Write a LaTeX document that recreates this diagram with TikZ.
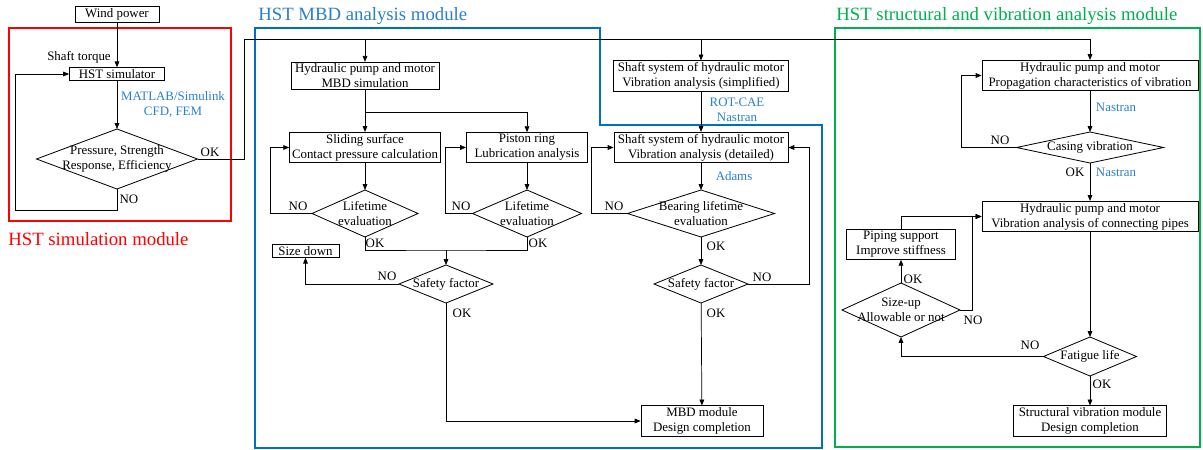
\documentclass[tikz,border=0pt]{standalone}
\usepackage{fontspec}
\setmainfont{Liberation Serif}
\usetikzlibrary{arrows.meta,shapes.geometric}
\definecolor{toolblue}{RGB}{41,128,205}
\definecolor{mbdblue}{RGB}{0,112,192}
\definecolor{svgreen}{RGB}{0,176,80}
\tikzset{
  box/.style={draw, line width=0.7pt, align=center, inner xsep=2pt, inner ysep=1.5pt, font=\fontsize{11}{12.8}\selectfont},
  decision/.style 2 args={diamond, draw, line width=0.7pt, inner sep=0pt, outer sep=0pt, minimum width=#1, minimum height=#2},
  dtext/.style={label={[lab, align=center]center:#1}},
  lab/.style={inner sep=1pt, font=\fontsize{11}{12.8}\selectfont},
  tool/.style={lab, align=center, text=toolblue},
  title/.style={inner sep=0pt, font=\fontsize{16}{18}\selectfont},
  frame/.style={line width=2pt}
}
\begin{document}
\begin{tikzpicture}[x=0.03cm, y=-0.03cm, >={Triangle[length=5pt,width=4pt]}, line width=0.6pt]
\useasboundingbox (0,0) rectangle (1203,450);

% module frames and titles
\draw[frame, red] (9,28) rectangle (231,221);
\draw[frame, mbdblue] (255,28) -- (600,28) -- (600,125) -- (822,125) -- (822,448) -- (255,448) -- cycle;
\draw[frame, svgreen] (835,28) rectangle (1200,447);
\node[title, text=red, anchor=west] (simtitle) at (8,239) {HST simulation module};
\node[title, text=toolblue, anchor=west] (mbdtitle) at (258,16) {HST MBD analysis module};
\node[title, text=svgreen, anchor=west] (svtitle) at (836,16) {HST structural and vibration analysis module};

% HST simulation module
\node[box, minimum width=2.52cm] (wind) at (117,14.5) {Wind power};
\node[box, minimum width=2.85cm] (hstsim) at (117,74) {HST simulator};
\node[decision={4.83cm}{1.8cm}, dtext={Pressure, Strength\\Response, Efficiency}] (check) at (117,159) {};
\node[lab] (torque) at (79,57) {Shaft torque};
\node[tool] (matlab) at (173,104.5) {MATLAB/Simulink\\CFD, FEM};
\node[lab] (checkno) at (129,199) {NO};
\node[lab] (checkok) at (210,152) {OK};

\draw[->] (wind) -- (hstsim);
\draw[->] (hstsim) -- (check);
\draw[->] (check.south) |- (15,210) |- (hstsim.west);
\coordinate (bus) at (244,39);
\draw[->] (check.east) -| (bus) -| (1090,60);

% HST MBD analysis module
\node[box, minimum width=4.44cm] (mbdsim) at (365,76) {Hydraulic pump and motor\\MBD simulation};
\node[box, minimum width=4.44cm] (sliding) at (365,147.5) {Sliding surface\\Contact pressure calculation};
\node[box, minimum width=3.63cm] (piston) at (527,147.5) {Piston ring\\Lubrication analysis};
\node[decision={3.18cm}{1.41cm}, dtext={Lifetime\\evaluation}] (life1) at (365,213.5) {};
\node[decision={3.27cm}{1.41cm}, dtext={Lifetime\\evaluation}] (life2) at (527,213.5) {};
\node[decision={2.82cm}{1.14cm}, dtext={Safety factor}] (safe1) at (446,284) {};
\node[box, minimum width=2.01cm] (sizedown) at (305.5,251) {Size down};
\node[box, minimum width=3.66cm] (mbdend) at (702,421) {MBD module\\Design completion};

\node[box, minimum width=5.25cm] (shafts) at (701,76) {Shaft system of hydraulic motor\\Vibration analysis (simplified)};
\node[box, minimum width=5.22cm] (shaftd) at (701,147.5) {Shaft system of hydraulic motor\\Vibration analysis (detailed)};
\node[decision={4.41cm}{1.41cm}, dtext={Bearing lifetime\\evaluation}] (bear) at (701,213.5) {};
\node[decision={2.82cm}{1.14cm}, dtext={Safety factor}] (safe2) at (701,284) {};
\node[tool] (rotcae) at (737,110) {ROT-CAE\\Nastran};
\node[tool] (adams) at (734,176) {Adams};

\node[lab] (life1no) at (298,206) {NO};
\node[lab] (life2no) at (461,206) {NO};
\node[lab] (life1ok) at (375,243) {OK};
\node[lab] (life2ok) at (538,243) {OK};
\node[lab] (safe1no) at (387,276) {NO};
\node[lab] (safe1ok) at (462,313) {OK};
\node[lab] (bearno) at (614,206) {NO};
\node[lab] (bearok) at (716,246) {OK};
\node[lab] (safe2no) at (762,277) {NO};
\node[lab] (safe2ok) at (716,313) {OK};

\draw[->] (mbdsim.north |- bus) -- (mbdsim.north);
\draw[->] (mbdsim) -- (sliding);
\coordinate (split) at (365,112);
\draw[->] (split) -| (piston.north);
\draw[->] (sliding) -- (life1);
\draw[->] (piston) -- (life2);
\draw[->] (life1.west) -- +(-42,0) |- (sliding.west);
\draw[->] (life2.west) -- +(-27,0) |- (piston.west);
\coordinate (join) at (446,250);
\draw (life1.south) |- (join) -| (life2.south);
\draw[->] (join) -- (safe1.north);
\draw[->] (safe1.west) -| (sizedown.south);
\draw[->] (safe1.south) |- (mbdend.west);

\draw[->] (shafts.north |- bus) -- (shafts.north);
\draw[->] (shafts) -- (shaftd);
\draw[->] (shaftd) -- (bear);
\draw[->] (bear.west) -- +(-36,0) |- (shaftd.west);
\draw[->] (bear) -- (safe2);
\draw[->] (safe2.east) -- +(61,0) |- (shaftd.east);
\draw[->] (safe2) -- (mbdend);

% HST structural and vibration analysis module
\node[box, minimum width=6.48cm] (propag) at (1090,75.5) {Hydraulic pump and motor\\Propagation characteristics of vibration};
\node[decision={4.41cm}{0.93cm}, dtext={Casing vibration}] (casing) at (1090,147.5) {};
\node[box, minimum width=6.48cm] (pipes) at (1090,216.5) {Hydraulic pump and motor\\Vibration analysis of connecting pipes};
\node[box, minimum width=3.27cm] (support) at (901,244.5) {Piping support\\Improve stiffness};
\node[decision={3.54cm}{1.62cm}, dtext={Size-up\\Allowable or not}] (sizeup) at (901,310) {};
\node[decision={2.79cm}{1.17cm}, dtext={Fatigue life}] (fatigue) at (1090,356.5) {};
\node[box, minimum width=4.59cm] (svend) at (1090,421) {Structural vibration module\\Design completion};

\node[tool] (nastran1) at (1116,107) {Nastran};
\node[tool] (nastran2) at (1116,172) {Nastran};
\node[lab] (casingno) at (1000,140) {NO};
\node[lab] (casingok) at (1075,172) {OK};
\node[lab] (sizeupok) at (913,279) {OK};
\node[lab] (sizeupno) at (973,320) {NO};
\node[lab] (fatigueno) at (1030,345) {NO};
\node[lab] (fatigueok) at (1102,384) {OK};

\draw[->] (propag) -- (casing);
\draw[->] (casing.west) -- +(-55,0) |- (propag.west);
\draw[->] (casing) -- (pipes);
\draw[->] (pipes) -- (fatigue);
\draw[->] (fatigue.west) -| (sizeup.south);
\draw[->] (fatigue) -- (svend);
\draw[->] (sizeup) -- (support);
\draw[->] (sizeup.east) -- +(12,0) |- (pipes.west);
\draw[->] (support.north) |- (pipes.west);
\end{tikzpicture}
\end{document}
